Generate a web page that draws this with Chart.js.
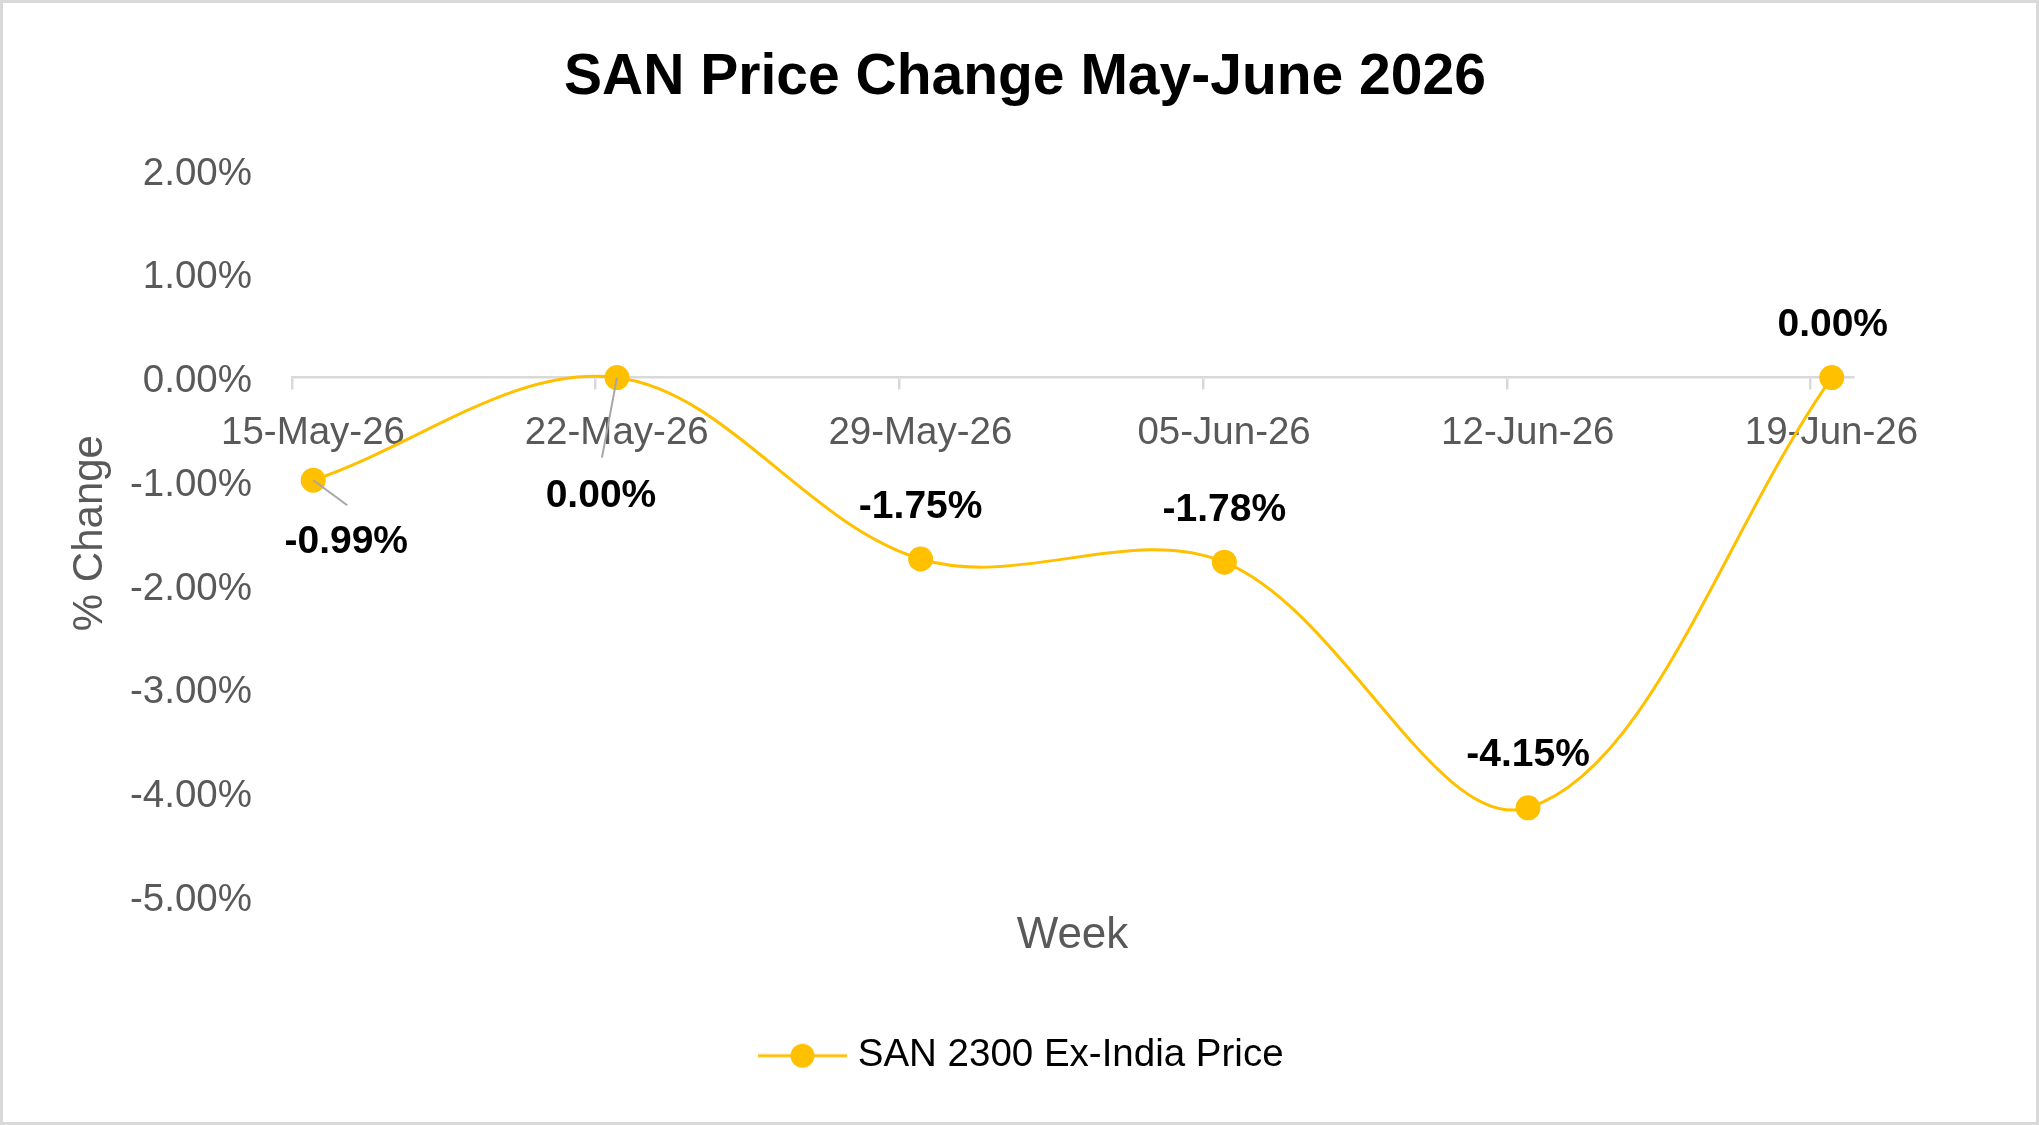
<!DOCTYPE html>
<html>
<head>
<meta charset="utf-8">
<title>SAN Price Change May-June 2026</title>
<script src="https://cdn.jsdelivr.net/npm/chart.js@4.4.1/dist/chart.umd.min.js"></script>
<style>
  html, body { margin: 0; padding: 0; background: #ffffff; overflow: hidden; }
  #wrap { width: 2039px; height: 1125px; }
  canvas { display: block; }
</style>
</head>
<body>
<div id="wrap"><canvas id="chart" width="2039" height="1125"></canvas></div>
<script>
// ---- data ----
const chartTitle = 'SAN Price Change May-June 2026';
const seriesName = 'SAN 2300 Ex-India Price';
const weeks = ['15-May-26', '22-May-26', '29-May-26', '05-Jun-26', '12-Jun-26', '19-Jun-26'];
const priceChange = [-0.99, 0.00, -1.75, -1.78, -4.15, 0.00];
const yAxisMin = -5;
const yAxisMax = 2;
const yAxisStep = 1;
const xAxisTitle = 'Week';
const yAxisTitle = '% Change';

// ---- styles ----
const FONT = "'Liberation Sans', Arial, Helvetica, sans-serif";
const GOLD = '#FFC000';
const AXIS_GREY = '#d9d9d9';
const TEXT_GREY = '#595959';
// data label placement relative to each point (pixels), optional leader line end
const labelPlacement = [
  { dx: 33, dy: 62, leader: [34, 25] },
  { dx: -16, dy: 119, leader: [-15, 80] },
  { dx: 0, dy: -52 },
  { dx: 0, dy: -52 },
  { dx: 0, dy: -53 },
  { dx: 1, dy: -52 }
];

// legend icon: line with circle marker
const legendIcon = document.createElement('canvas');
legendIcon.width = 89; legendIcon.height = 26;
(function () {
  const c = legendIcon.getContext('2d');
  c.strokeStyle = GOLD; c.lineWidth = 3;
  c.beginPath(); c.moveTo(0, 13); c.lineTo(89, 13); c.stroke();
  c.fillStyle = GOLD;
  c.beginPath(); c.arc(44.5, 13, 12, 0, Math.PI * 2); c.fill();
})();

const backgroundAndBorder = {
  id: 'bgBorder',
  beforeDraw(chart) {
    const ctx = chart.ctx;
    ctx.save();
    ctx.fillStyle = '#ffffff';
    ctx.fillRect(0, 0, chart.width, chart.height);
    ctx.restore();
  },
  afterDraw(chart) {
    const ctx = chart.ctx;
    ctx.save();
    ctx.strokeStyle = AXIS_GREY;
    ctx.lineWidth = 3;
    ctx.strokeRect(1.5, 1.5, chart.width - 3, chart.height - 3);
    ctx.restore();
  }
};

const dataLabels = {
  id: 'dataLabels',
  afterDatasetsDraw(chart) {
    const ctx = chart.ctx;
    const meta = chart.getDatasetMeta(0);
    const values = chart.data.datasets[0].data;
    ctx.save();
    meta.data.forEach((pt, i) => {
      const place = labelPlacement[i];
      if (place.leader) {
        ctx.strokeStyle = '#a6a6a6';
        ctx.lineWidth = 2;
        ctx.beginPath();
        ctx.moveTo(pt.x, pt.y);
        ctx.lineTo(pt.x + place.leader[0], pt.y + place.leader[1]);
        ctx.stroke();
      }
      ctx.fillStyle = '#000000';
      ctx.font = 'bold 39px ' + FONT;
      ctx.textAlign = 'center';
      ctx.textBaseline = 'middle';
      ctx.fillText(values[i].y.toFixed(2) + '%', pt.x + place.dx, pt.y + place.dy);
    });
    ctx.restore();
  }
};

const chart = new Chart(document.getElementById('chart'), {
  type: 'line',
  data: {
    datasets: [{
      label: seriesName,
      data: weeks.map((w, i) => ({ x: i, y: priceChange[i] })),
      borderColor: GOLD,
      backgroundColor: GOLD,
      borderWidth: 3,
      tension: 0.35,
      pointRadius: 12.5,
      pointBackgroundColor: GOLD,
      pointBorderColor: GOLD,
      pointBorderWidth: 0,
      xAxisID: 'x',
      yAxisID: 'y'
    }]
  },
  options: {
    responsive: false,
    animation: false,
    events: [],
    layout: { padding: { left: 11, right: 0, top: 0, bottom: 40 } },
    plugins: {
      title: {
        display: true,
        text: chartTitle,
        color: '#000000',
        font: { family: FONT, size: 57, weight: 'bold' },
        padding: { top: 44.4, bottom: 57.4 }
      },
      legend: {
        display: true,
        position: 'bottom',
        labels: {
          usePointStyle: true,
          pointStyleWidth: 72,
          padding: 20,
          color: '#000000',
          font: { family: FONT, size: 38.5 },
          generateLabels: (ch) => [{
            text: seriesName,
            pointStyle: legendIcon,
            fillStyle: GOLD,
            strokeStyle: GOLD,
            lineWidth: 0,
            hidden: false,
            datasetIndex: 0
          }]
        }
      },
      tooltip: { enabled: false }
    },
    scales: {
      x: {
        type: 'linear',
        position: { y: 0 },
        min: -0.07,
        max: 5.07,
        afterBuildTicks: (s) => { s.ticks = weeks.map((w, i) => ({ value: i - 0.07 })); },
        ticks: {
          autoSkip: false,
          maxRotation: 0,
          minRotation: 0,
          labelOffset: 21,
          padding: 22,
          color: TEXT_GREY,
          font: { family: FONT, size: 38.5 },
          callback: (v, i) => weeks[i]
        },
        grid: {
          display: true,
          drawOnChartArea: false,
          drawTicks: true,
          tickLength: 11,
          color: AXIS_GREY,
          lineWidth: 2.5
        },
        border: { display: true, color: AXIS_GREY, width: 2.5 }
      },
      xb: {
        type: 'linear',
        axis: 'x',
        position: 'bottom',
        min: 0, max: 1,
        ticks: { display: false },
        grid: { display: false, drawTicks: false },
        border: { display: false },
        title: {
          display: true,
          text: xAxisTitle,
          color: TEXT_GREY,
          font: { family: FONT, size: 44 },
          padding: { top: 0, bottom: 54 }
        },
        afterFit: (s) => { s.height = 120.5; }
      },
      y: {
        type: 'linear',
        position: 'left',
        min: yAxisMin,
        max: yAxisMax,
        ticks: {
          stepSize: yAxisStep,
          padding: 40,
          labelOffset: 4,
          color: TEXT_GREY,
          font: { family: FONT, size: 38.5 },
          callback: (v) => Number(v).toFixed(2) + '%'
        },
        grid: { display: false, drawTicks: false },
        border: { display: false },
        title: {
          display: true,
          text: yAxisTitle,
          color: TEXT_GREY,
          font: { family: FONT, size: 42 },
          padding: { top: 54.4, bottom: 0 }
        },
        afterFit: (s) => { s.width = 281; }
      },
      yr: {
        type: 'linear',
        axis: 'y',
        position: 'right',
        display: true,
        ticks: { display: false },
        grid: { display: false, drawTicks: false },
        border: { display: false },
        afterFit: (s) => { s.width = 186; }
      }
    }
  },
  plugins: [backgroundAndBorder, dataLabels]
});
</script>
</body>
</html>
